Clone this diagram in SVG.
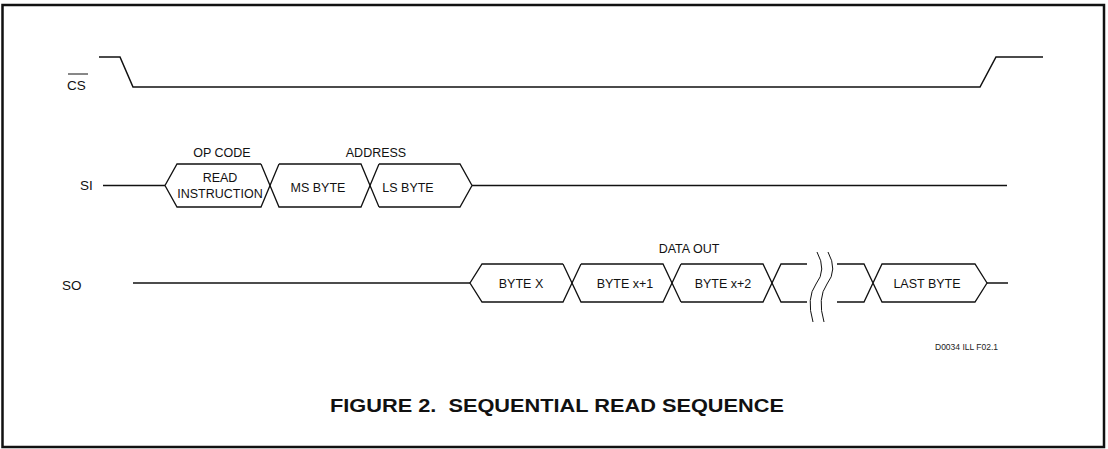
<svg xmlns="http://www.w3.org/2000/svg" width="1108" height="449" viewBox="0 0 1108 449">
<style>
.t{font-family:"Liberation Sans",Arial,sans-serif;font-size:12.5px;fill:#111;text-anchor:middle}
.lbl{font-family:"Liberation Sans",Arial,sans-serif;font-size:13.5px;fill:#111}
.w{fill:none;stroke:#111;stroke-width:1.5;stroke-linejoin:miter}
.h{fill:none;stroke:#111;stroke-width:1.3}
.br{fill:none;stroke:#111;stroke-width:1}
.title{font-family:"Liberation Sans",Arial,sans-serif;font-size:18px;font-weight:bold;fill:#111;white-space:pre}
.small{font-family:"Liberation Sans",Arial,sans-serif;font-size:8.5px;fill:#222}
</style>
<rect x="0" y="0" width="1108" height="449" fill="#fff"/>
<rect x="2.5" y="5" width="1101.5" height="442" fill="none" stroke="#111" stroke-width="2.5"/>

<g id="labels">
  <text class="lbl" x="67" y="90">CS</text>
  <line x1="68" y1="74" x2="88" y2="74" stroke="#111" stroke-width="1"/>
  <text class="lbl" x="80" y="190">SI</text>
  <text class="lbl" x="62" y="290">SO</text>
</g>

<g id="connectors">
  <polyline id="cs-wave" class="w" points="99,57 120,57 133,87 980,87 996,57 1043,57"/>
  <line id="si-lead" class="w" x1="103" y1="185.5" x2="165" y2="185.5"/>
  <line id="si-tail" class="w" x1="472" y1="185.5" x2="1007" y2="185.5"/>
  <line id="so-lead" class="w" x1="133" y1="283" x2="470" y2="283"/>
  <line id="so-tail" class="w" x1="987" y1="283" x2="1008" y2="283"/>
</g>

<g id="op-code">
  <polyline class="h" points="261,164 177,164 165,185.5 177,207 261,207 279,164"/>
  <text class="t" x="222" y="157">OP CODE</text>
  <text class="t" x="220" y="182">READ</text>
  <text class="t" x="220" y="198">INSTRUCTION</text>
</g>
<g id="ms-byte">
  <polyline class="h" points="261,164 279,207 361,207 379,164"/>
  <polyline class="h" points="279,164 361,164 379,207"/>
  <text class="t" x="318" y="192">MS BYTE</text>
</g>
<g id="ls-byte">
  <polyline class="h" points="379,164 460,164 472,185.5 460,207 379,207"/>
  <text class="t" x="408" y="192">LS BYTE</text>
  <text class="t" x="376" y="157">ADDRESS</text>
</g>

<g id="byte-x">
  <polyline class="h" points="563,264 482,264 470,283 482,302 563,302 581,264"/>
  <text class="t" x="521" y="288">BYTE X</text>
</g>
<g id="byte-x1">
  <polyline class="h" points="563,264 581,302 663,302 681,264"/>
  <polyline class="h" points="581,264 663,264 681,302"/>
  <text class="t" x="625" y="288">BYTE x+1</text>
  <text class="t" x="689" y="253">DATA OUT</text>
</g>
<g id="byte-x2">
  <polyline class="h" points="681,264 763,264 781,302 807,302"/>
  <polyline class="h" points="681,302 763,302 781,264 807,264"/>
  <text class="t" x="723" y="288">BYTE x+2</text>
</g>
<g id="break">
  <path class="br" d="M817,252 Q827,270 816,284 Q806,298 813,322"/>
  <path class="br" d="M828,252 Q838,270 827,284 Q817,298 824,322"/>
</g>
<g id="last-byte">
  <polyline class="h" points="837,264 864,264 882,302 975,302 987,283 975,264 882,264 864,302 837,302"/>
  <text class="t" x="927" y="288">LAST BYTE</text>
</g>

<text class="small" x="935" y="350">D0034 ILL F02.1</text>
<text class="title" x="330" y="412" xml:space="preserve" textLength="454" lengthAdjust="spacingAndGlyphs">FIGURE 2.  SEQUENTIAL READ SEQUENCE</text>
</svg>
